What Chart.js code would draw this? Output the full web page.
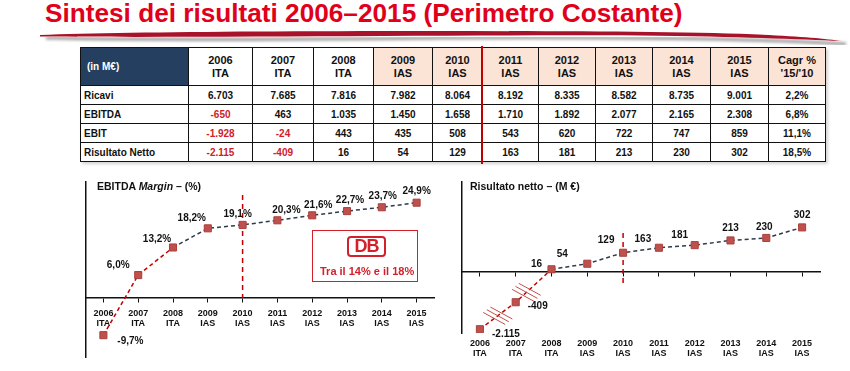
<!DOCTYPE html>
<html>
<head>
<meta charset="utf-8">
<script src="https://cdn.jsdelivr.net/npm/chart.js@4.4.1/dist/chart.umd.min.js"></script>
<style>
  body { margin: 0; background: #fff; font-family: "Liberation Sans", Arial, sans-serif; }
  #page { position: relative; width: 850px; height: 371px; overflow: hidden; }
  #title { position: absolute; left: 45px; top: 0; line-height: 27px; font-size: 26.2px; font-weight: bold; color: #e1001a; white-space: nowrap; }
  #swoosh { position: absolute; left: 0; top: 0; }
  table { position: absolute; left: 80px; top: 47px; width: 745px; border-collapse: collapse; table-layout: fixed; box-shadow: 2px 2px 3px rgba(0,0,0,0.18); }
  td { border: 1px solid #111; font-size: 10px; font-weight: bold; text-align: center; height: 18px; padding: 0; color: #111; }
  thead td { height: 37px; font-size: 11px; line-height: 13px; }
  thead td.ias { background: #fbe4d5; }
  thead td.corner { background: #243f60; color: #fff; text-align: left; padding-left: 6px; font-size: 10px; }
  td.lbl { text-align: left; padding-left: 3px; }
  td.neg { color: #d0202a; }
  #cut { position: absolute; left: 481px; top: 46px; width: 2px; height: 118px; background: #c00000; }
  canvas { position: absolute; }
  #chartL { left: 0; top: 170px; }
  #chartR { left: 445px; top: 170px; }
  .ctitle { position: absolute; top: 180px; font-size: 10.5px; font-weight: bold; color: #111; white-space: nowrap; }
  #dbbox { position: absolute; left: 312px; top: 230px; width: 104px; height: 50px; border: 1.5px solid #d3202a; }
  #dblogo { position: absolute; left: 347px; top: 236px; width: 35px; height: 17px; border: 2.5px solid #d3202a; border-radius: 4px; color: #d3202a; font-size: 18px; line-height: 17px; font-weight: bold; text-align: center; letter-spacing: -1px; }
  #dbtext { position: absolute; left: 320px; top: 265px; font-size: 11px; font-weight: bold; color: #d3202a; white-space: nowrap; }
</style>
</head>
<body>
<div id="page">
  <svg id="swoosh" width="850" height="50">
    <defs><filter id="blur"><feGaussianBlur stdDeviation="1.4"/></filter></defs>
    <path d="M46,38 C200,41 350,39 440,38 C620,37 770,39 846,44" stroke="#9a9a9a" stroke-width="3" fill="none" filter="url(#blur)"/>
    <path d="M40,35 C150,31 450,30 650,32 C760,33 815,37 842,41 C800,39.5 740,36.5 640,35.5 C450,34.5 200,38 40,36.5 Z" fill="#a8122a"/>
  </svg>
  <div id="title">Sintesi dei risultati 2006–2015 (Perimetro Costante)</div>

  <table id="tbl"></table>
  <div id="cut"></div>

  <canvas id="chartL" width="445" height="200"></canvas>
  <canvas id="chartR" width="405" height="200"></canvas>

  <div class="ctitle" style="left:97px">EBITDA <i>Margin</i> – (%)</div>
  <div class="ctitle" style="left:470px">Risultato netto – (M €)</div>

  <div id="dbbox"></div>
  <div id="dblogo">DB</div>
  <div id="dbtext">Tra il 14% e il 18%</div>
</div>

<script>
// ---------- Data ----------
const years = ["2006", "2007", "2008", "2009", "2010", "2011", "2012", "2013", "2014", "2015"];
const gaap = ["ITA", "ITA", "ITA", "IAS", "IAS", "IAS", "IAS", "IAS", "IAS", "IAS"];

const ricavi = [6703, 7685, 7816, 7982, 8064, 8192, 8335, 8582, 8735, 9001];
const ebitda = [-650, 463, 1035, 1450, 1658, 1710, 1892, 2077, 2165, 2308];
const ebit = [-1928, -24, 443, 435, 508, 543, 620, 722, 747, 859];
const risultatoNetto = [-2115, -409, 16, 54, 129, 163, 181, 213, 230, 302];
const cagr = [2.2, 6.8, 11.1, 18.5];

const ebitdaMargin = [-9.7, 6.0, 13.2, 18.2, 19.1, 20.3, 21.6, 22.7, 23.7, 24.9];

const xLabels = years.map((y, i) => [y, gaap[i]]);

// ---------- Formatting ----------
function fmtInt(n) {
  const s = String(Math.abs(n)).replace(/\B(?=(\d{3})+(?!\d))/g, ".");
  return (n < 0 ? "-" : "") + s;
}
function fmtPct(n) {
  return n.toFixed(1).replace(".", ",") + "%";
}

// ---------- Table ----------
function buildTable() {
  const widths = [108, 64, 61, 60, 59, 50, 56, 57, 57, 58, 58, 57];
  let html = "<colgroup>" + widths.map(w => `<col style="width:${w}px">`).join("") + "</colgroup>";
  html += '<thead><tr><td class="corner">(in M€)</td>';
  years.forEach((y, i) => {
    html += `<td class="${gaap[i] === "IAS" ? "ias" : ""}">${y}<br>${gaap[i]}</td>`;
  });
  html += '<td class="ias">Cagr %<br>\'15/\'10</td></tr></thead><tbody>';
  const rows = [["Ricavi", ricavi], ["EBITDA", ebitda], ["EBIT", ebit], ["Risultato Netto", risultatoNetto]];
  rows.forEach(([name, vals], r) => {
    html += `<tr><td class="lbl">${name}</td>`;
    vals.forEach(v => {
      html += `<td class="${v < 0 ? "neg" : ""}">${fmtInt(v)}</td>`;
    });
    html += `<td>${fmtPct(cagr[r])}</td></tr>`;
  });
  html += "</tbody>";
  document.getElementById("tbl").innerHTML = html;
}
buildTable();

// ---------- Chart styling ----------
const FONT = "'Liberation Sans', Arial, sans-serif";
const RED_LINE = "#c00000";
const DARK_LINE = "#2e3b4a";
const MARKER = "#c0504d";

// broken axis below zero, like the slide (negative part is squeezed)
function brokenAxis(v) {
  if (v >= 0) return v;
  if (v >= -400) return v * 0.52;
  return -208 + (v + 400) * 0.108;
}

const pointLabels = {
  id: "pointLabels",
  afterDatasetsDraw(chart, args, opts) {
    const ctx = chart.ctx;
    const meta = chart.getDatasetMeta(0);
    ctx.save();
    ctx.font = "bold 10px " + FONT;
    ctx.fillStyle = "#111";
    ctx.textAlign = "center";
    ctx.textBaseline = "middle";
    meta.data.forEach((pt, i) => {
      const [dx, dy] = opts.offsets[i];
      ctx.fillText(opts.texts[i], pt.x + dx, pt.y + dy);
    });
    ctx.restore();
  }
};

const cutLine = {
  id: "cutLine",
  beforeDatasetsDraw(chart, args, opts) {
    const { ctx, scales } = chart;
    const x = scales.x.getPixelForValue(opts.index);
    ctx.save();
    ctx.strokeStyle = RED_LINE;
    ctx.lineWidth = 1.5;
    ctx.setLineDash([5, 4]);
    ctx.beginPath();
    ctx.moveTo(x, scales.y.getPixelForValue(opts.from));
    ctx.lineTo(x, scales.y.getPixelForValue(opts.to));
    ctx.stroke();
    ctx.restore();
  }
};

// the little "\\\" marks that show the broken scale
const breakMarks = {
  id: "breakMarks",
  afterDatasetsDraw(chart, args, opts) {
    if (!opts.marks) return;
    const ctx = chart.ctx;
    const pts = chart.getDatasetMeta(0).data;
    ctx.save();
    ctx.strokeStyle = MARKER;
    ctx.lineWidth = 1;
    opts.marks.forEach(([i, t]) => {
      const a = pts[i], b = pts[i + 1];
      const cx = a.x + (b.x - a.x) * t;
      const cy = a.y + (b.y - a.y) * t;
      const len = Math.hypot(b.x - a.x, b.y - a.y);
      const ux = (b.x - a.x) / len, uy = (b.y - a.y) / len;
      [-4.5, 0, 4.5].forEach(s => {
        const mx = cx + ux * s, my = cy + uy * s;
        ctx.beginPath();
        ctx.moveTo(mx - 11, my - 6);
        ctx.lineTo(mx + 11, my + 6);
        ctx.stroke();
      });
    });
    ctx.restore();
  }
};

function lineDataset(values) {
  return {
    data: values,
    borderWidth: 1.5,
    borderDash: [4, 3],
    segment: { borderColor: c => (c.p0DataIndex < 2 ? RED_LINE : DARK_LINE) },
    pointStyle: "rect",
    pointRadius: 5,
    pointBackgroundColor: MARKER,
    pointBorderColor: "#a8403c",
    pointBorderWidth: 1,
    tension: 0
  };
}

const tickFont = { family: FONT, size: 9, weight: "bold", lineHeight: 1.05 };

// ---------- Left chart: EBITDA margin ----------
new Chart(document.getElementById("chartL"), {
  type: "line",
  data: { labels: xLabels, datasets: [lineDataset(ebitdaMargin)] },
  options: {
    responsive: false,
    animation: false,
    layout: { padding: { left: 86, right: 11, top: 12, bottom: 13 } },
    plugins: {
      legend: { display: false },
      tooltip: { enabled: false },
      pointLabels: {
        texts: ebitdaMargin.map(fmtPct),
        offsets: [[27, 6], [-20, -10], [-16, -8], [-16, -10], [-5, -11], [9, -10], [6, -10], [3, -11], [1, -11], [0, -11]]
      },
      cutLine: { index: 4, from: 26.9, to: 0 }
    },
    scales: {
      x: {
        position: { y: 0 },
        offset: true,
        grid: { drawOnChartArea: false, drawTicks: true, tickLength: 4, color: "#111" },
        border: { color: "#111", width: 1.5 },
        ticks: { color: "#111", font: tickFont, padding: 7, maxRotation: 0, autoSkip: false }
      },
      y: {
        min: -15.4,
        max: 30.3,
        ticks: { display: false },
        grid: { drawOnChartArea: false, drawTicks: false },
        border: { color: "#111", width: 1.5 },
        afterFit: s => { s.width = 0; }
      }
    }
  },
  plugins: [cutLine, pointLabels]
});

// ---------- Right chart: Risultato netto ----------
new Chart(document.getElementById("chartR"), {
  type: "line",
  data: { labels: xLabels, datasets: [lineDataset(risultatoNetto.map(brokenAxis))] },
  options: {
    responsive: false,
    animation: false,
    layout: { padding: { left: 17, right: 30, top: 12, bottom: 12 } },
    plugins: {
      legend: { display: false },
      tooltip: { enabled: false },
      pointLabels: {
        texts: risultatoNetto.map(fmtInt),
        offsets: [[26, 5], [22, 4], [-15, -5], [-25, -9], [-17, -12], [-16, -9], [-15, -10], [0, -12], [-2, -11], [0, -12]]
      },
      cutLine: { index: 4, from: 263, to: -90 },
      breakMarks: { marks: [[0, 0.5], [1, 0.3]] }
    },
    scales: {
      x: {
        position: { y: 0 },
        offset: true,
        grid: { drawOnChartArea: false, drawTicks: true, tickLength: 4, color: "#111" },
        border: { color: "#111", width: 1.5 },
        ticks: { display: false }
      },
      x2: {
        type: "category",
        position: "bottom",
        offset: true,
        grid: { display: false, drawTicks: false },
        border: { display: false },
        ticks: { color: "#111", font: tickFont, padding: 6, maxRotation: 0, autoSkip: false },
        afterFit: s => { s.height = 25; }
      },
      y: {
        min: -419,
        max: 612,
        ticks: { display: false },
        grid: { drawOnChartArea: false, drawTicks: false },
        border: { color: "#111", width: 1.5 },
        afterFit: s => { s.width = 0; }
      }
    }
  },
  plugins: [cutLine, pointLabels, breakMarks]
});
</script>
</body>
</html>
